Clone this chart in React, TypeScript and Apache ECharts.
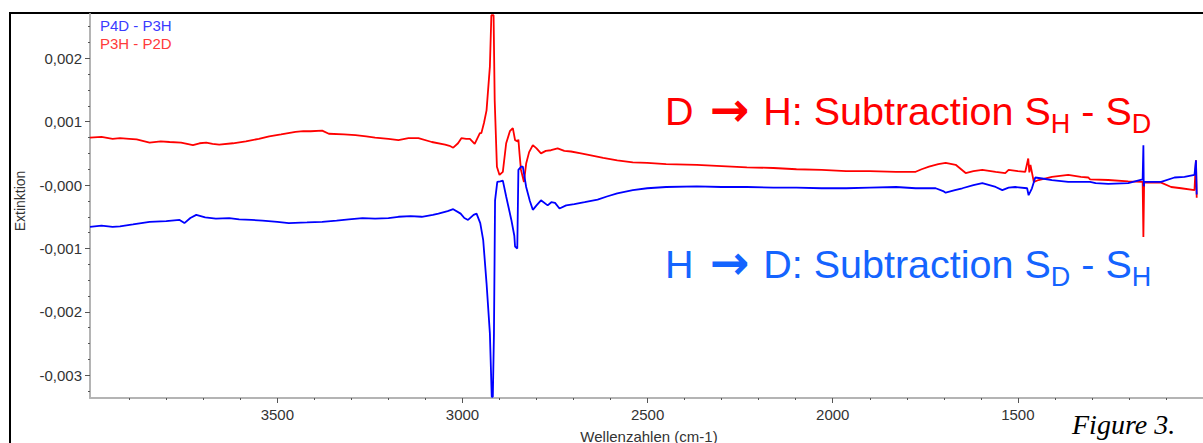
import React, { useEffect, useRef } from "react";
import * as echarts from "echarts";

// ---- data (wavenumber in cm-1, absorbance difference) ----
const redWavenumbers = [
  4006, 3975, 3945, 3925, 3900, 3880, 3845, 3815, 3791, 3760, 3728, 3710, 3692, 3675, 3657, 3620, 3585, 3550,
  3522, 3490, 3451, 3430, 3410, 3379, 3361, 3320, 3289, 3260, 3236, 3200, 3173, 3146, 3119, 3083, 3047, 3035,
  3025, 3012, 3003, 2990, 2980, 2967, 2953, 2949, 2942, 2935, 2926, 2922, 2916, 2913, 2907, 2900, 2891, 2882,
  2872, 2864, 2858, 2851, 2849, 2846, 2842, 2834, 2828, 2820, 2810, 2800, 2788, 2775, 2761, 2743, 2725, 2707,
  2680, 2653, 2620, 2582, 2540, 2501, 2450, 2367, 2300, 2232, 2160, 2098, 2030, 1964, 1900, 1829, 1776, 1760,
  1740, 1715, 1695, 1668, 1641, 1620, 1596, 1560, 1534, 1525, 1500, 1480, 1472, 1469, 1466, 1457, 1444, 1408,
  1364, 1330, 1310, 1305, 1256, 1202, 1163, 1161, 1159, 1113, 1086, 1059, 1023, 1019, 1017,
];
const redValues = [
  0.00075, 0.00076, 0.00073, 0.00074, 0.00073, 0.00072, 0.00067, 0.00069, 0.00068, 0.00067, 0.00063, 0.00066,
  0.00067, 0.00065, 0.00064, 0.00066, 0.00069, 0.00073, 0.00077, 0.0008, 0.00084, 0.00085, 0.00085, 0.00086,
  0.00081, 0.0008, 0.00079, 0.00077, 0.00075, 0.00073, 0.00071, 0.00074, 0.00074, 0.00068, 0.00064, 0.00062,
  0.00059, 0.00066, 0.00074, 0.00073, 0.00073, 0.00065, 0.00082, 0.00082, 0.00098, 0.00118, 0.00187, 0.00268,
  0.00268, 0.00134, 0.00029, 0.00016, 0.00021, 0.00066, 0.00085, 0.0009, 0.00071, 0.00069, 0.00072, 0.0005,
  0.00024, 0.00005, 0.00034, 0.00052, 0.00063, 0.00058, 0.0005, 0.00054, 0.00055, 0.00058, 0.00054, 0.00053,
  0.0005, 0.00047, 0.00043, 0.00039, 0.00036, 0.00035, 0.00033, 0.00032, 0.0003, 0.00028, 0.00027, 0.00025,
  0.00024, 0.00022, 0.00022, 0.00021, 0.00021, 0.00025, 0.00029, 0.00033, 0.00035, 0.00032, 0.00019, 0.00022,
  0.00024, 0.00021, 0.00019, 0.00024, 0.00022, 0.00021, 0.00042, 0.0002, 0.00032, 0.00005, 0.00008, 0.00013,
  0.00016, 0.00013, 0.00012, 0.00009, 0.00008, 0.00006, 0.00005, -0.00082, 0.00004, 0.00004, -0.00003,
  -0.00005, -0.00008, 0.00039, -0.0002,
];

const blueWavenumbers = [
  4006, 3975, 3945, 3925, 3890, 3845, 3800, 3764, 3751, 3735, 3719, 3695, 3666, 3630, 3603, 3570, 3540, 3500,
  3469, 3420, 3379, 3340, 3307, 3270, 3236, 3200, 3173, 3140, 3110, 3080, 3065, 3040, 3025, 3005, 2995, 2985,
  2970, 2962, 2952, 2944, 2935, 2926, 2921, 2918, 2915, 2912, 2906, 2898, 2891, 2882, 2868, 2860, 2858, 2852,
  2849, 2842, 2837, 2828, 2818, 2810, 2800, 2788, 2770, 2760, 2750, 2738, 2720, 2698, 2670, 2635, 2610, 2582,
  2540, 2501, 2450, 2367, 2300, 2232, 2160, 2098, 2030, 1964, 1900, 1829, 1776, 1722, 1700, 1695, 1670, 1650,
  1620, 1596, 1560, 1542, 1525, 1507, 1475, 1471, 1466, 1462, 1453, 1430, 1408, 1364, 1305, 1290, 1256, 1202,
  1163, 1161, 1160, 1159, 1113, 1077, 1050, 1023, 1019, 1017,
];
const blueValues = [
  -0.00066, -0.00064, -0.00066, -0.00065, -0.00062, -0.00058, -0.00057, -0.00055, -0.0006, -0.00052, -0.00047,
  -0.00051, -0.00053, -0.00052, -0.00054, -0.00055, -0.00056, -0.00058, -0.0006, -0.00059, -0.00058, -0.00056,
  -0.00054, -0.00052, -0.00053, -0.00052, -0.0005, -0.00049, -0.0005, -0.00047, -0.00045, -0.00041, -0.00038,
  -0.00045, -0.00052, -0.00055, -0.00047, -0.00045, -0.0006, -0.00087, -0.00155, -0.00234, -0.00334, -0.00334,
  -0.00234, -0.00024, 0.00005, 0.00006, 0.00007, -0.00018, -0.00055, -0.0008, -0.00097, -0.001, 0.00024,
  0.00029, 0.00029, -0.00003, -0.00025, -0.00039, -0.00032, -0.00024, -0.00032, -0.00027, -0.00028, -0.00037,
  -0.00032, -0.0003, -0.00027, -0.00023, -0.00018, -0.00013, -0.00008, -0.00005, -0.00003, -0.00002, -0.00003,
  -0.00003, -0.00004, -0.00004, -0.00005, -0.00005, -0.00004, -0.00003, -0.00005, -0.00005, -0.0001, -0.00012,
  -0.00008, -0.00005, 0.0, 0.00003, -0.00003, -0.00008, -0.00004, -0.00003, -0.00005, -0.00016, -0.0001,
  -0.00005, 0.00012, 0.0001, 0.00008, 0.00005, 0.00005, 0.00003, 0.00002, 0.00003, 0.00009, 0.00063, -0.00002,
  0.00005, 0.00005, 0.00012, 0.00013, 0.00016, 0.00039, -0.00015,
];

const xLabelTicks = [3500, 3000, 2500, 2000, 1500];
const xMinorTicks = [
  3900, 3800, 3700, 3600, 3400, 3300, 3200, 3100, 2900, 2800, 2700, 2600, 2400, 2300, 2200, 2100, 1900, 1800,
  1700, 1600, 1400, 1300, 1200, 1100,
];
const yLabelTicks = [-0.003, -0.002, -0.001, 0, 0.001, 0.002];
const yMinorTicks = [
  -0.00325, -0.003, -0.00275, -0.0025, -0.00225, -0.002, -0.00175, -0.0015, -0.00125, -0.001, -0.00075, -0.0005,
  -0.00025, 0, 0.00025, 0.0005, 0.00075, 0.001, 0.00125, 0.0015, 0.00175, 0.002, 0.00225, 0.0025,
];

const seriesNames = ["P4D - P3H", "P3H - P2D"];
// pieces: [text, kind] kind: m = main, a = arrow, s = subscript
const annotationRed: [string, string][] = [
  ["D ", "m"],
  ["\u2192", "a"],
  [" H: Subtraction S", "m"],
  ["H", "s"],
  [" - S", "m"],
  ["D", "s"],
];
const annotationBlue: [string, string][] = [
  ["H ", "m"],
  ["\u2192", "a"],
  [" D: Subtraction S", "m"],
  ["D", "s"],
  [" - S", "m"],
  ["H", "s"],
];

const SANS = "'Liberation Sans', Arial, sans-serif";
const ARROW_FONT = "'DejaVu Sans', sans-serif";
const SERIF = "'Liberation Serif', 'Times New Roman', serif";

const X_MIN = 1000;
const X_MAX = 4006;
const Y_MIN = -0.00336;
const Y_MAX = 0.0027;

function fmtY(v: number): string {
  if (Math.abs(v) < 1e-12) return "-0,000";
  return v.toFixed(3).replace(".", ",");
}

export default function App() {
  const ref = useRef<HTMLDivElement>(null);

  useEffect(() => {
    if (!ref.current) return;
    const chart = echarts.init(ref.current, undefined, { renderer: "svg" });
    const ctx = document.createElement("canvas").getContext("2d")!;
    const measure = (t: string, font: string) => {
      ctx.font = font;
      return ctx.measureText(t).width;
    };

    const MAIN = 39.5;
    const SUB = 27;
    const buildAnno = (parts: [string, string][], x0: number, baseline: number, color: string) => {
      const els: any[] = [];
      let x = x0;
      parts.forEach(([p, kind]) => {
        let font: string;
        let y: number;
        if (kind === "s") {
          font = `${SUB}px ${SANS}`;
          y = baseline + 8 - 0.3465 * SUB;
        } else if (kind === "a") {
          font = `bold ${MAIN * 1.2}px ${ARROW_FONT}`;
          y = baseline - 0.3 * MAIN * 1.2 - 1;
          x += 5;
        } else {
          font = `${MAIN}px ${SANS}`;
          y = baseline - 0.3465 * MAIN;
        }
        els.push({
          type: "text",
          x,
          y,
          style: { text: p, fill: color, font, align: "left", verticalAlign: "middle" },
        });
        x += measure(p, font);
        if (kind === "a") x += 3;
      });
      return els;
    };

    const red = redWavenumbers.map((w, i) => [w, redValues[i]]);
    const blue = blueWavenumbers.map((w, i) => [w, blueValues[i]]);

    const baseX = {
      type: "value",
      inverse: true,
      min: X_MIN,
      max: X_MAX,
      position: "bottom",
      splitLine: { show: false },
    };
    const baseY = {
      type: "value",
      min: Y_MIN,
      max: Y_MAX,
      position: "left",
      splitLine: { show: false },
    };

    const option: any = {
      animation: false,
      backgroundColor: "#ffffff",
      grid: { left: 90, right: -5.6, top: 14, bottom: 45, containLabel: false },
      legend: {
        orient: "vertical",
        left: 95,
        top: 18,
        padding: 0,
        itemGap: 3,
        itemWidth: 0,
        itemHeight: 15,
        icon: "none",
        selectedMode: false,
        textStyle: { fontSize: 15, fontFamily: SANS },
        data: [
          { name: seriesNames[0], textStyle: { color: "#3a3aff" } },
          { name: seriesNames[1], textStyle: { color: "#ff3a3a" } },
        ],
      },
      xAxis: [
        {
          ...baseX,
          axisLine: { show: true, onZero: false, lineStyle: { color: "#b4b4b4", width: 2 } },
          axisTick: { show: true, customValues: xLabelTicks, length: 5, lineStyle: { color: "#555", width: 1 } },
          axisLabel: {
            show: true,
            customValues: xLabelTicks,
            margin: 9,
            color: "#333",
            fontSize: 15,
            fontFamily: SANS,
            formatter: (v: number) => String(Math.round(v)),
          },
        },
        {
          ...baseX,
          axisLine: { show: false, onZero: false },
          axisTick: { show: true, customValues: xMinorTicks, length: 2, lineStyle: { color: "#555", width: 1 } },
          axisLabel: { show: false },
        },
      ],
      yAxis: [
        {
          ...baseY,
          axisLine: { show: true, onZero: false, lineStyle: { color: "#b4b4b4", width: 2 } },
          axisTick: { show: true, customValues: yLabelTicks, length: 5, lineStyle: { color: "#555", width: 1 } },
          axisLabel: {
            show: true,
            customValues: yLabelTicks,
            margin: 8,
            color: "#333",
            fontSize: 15,
            fontFamily: SANS,
            formatter: (v: number) => fmtY(v),
          },
        },
        {
          ...baseY,
          axisLine: { show: false, onZero: false },
          axisTick: { show: true, customValues: yMinorTicks, length: 2, lineStyle: { color: "#555", width: 1 } },
          axisLabel: { show: false },
        },
      ],
      series: [
        {
          name: seriesNames[0],
          type: "line",
          xAxisIndex: 0,
          yAxisIndex: 0,
          data: blue,
          showSymbol: false,
          symbol: "none",
          color: "#0000ff",
          lineStyle: { color: "#0000ff", width: 1.8 },
          z: 3,
        },
        {
          name: seriesNames[1],
          type: "line",
          xAxisIndex: 0,
          yAxisIndex: 0,
          data: red,
          showSymbol: false,
          symbol: "none",
          color: "#ff0000",
          lineStyle: { color: "#ff0000", width: 1.8 },
          z: 2,
        },
      ],
      graphic: [
        {
          type: "rect",
          shape: { x: 10, y: 13, width: 1400, height: 600 },
          style: { fill: "none", stroke: "#000", lineWidth: 2 },
          silent: true,
        },
        {
          type: "text",
          x: 20,
          y: 201,
          rotation: Math.PI / 2,
          style: { text: "Extinktion", fill: "#333", font: `14px ${SANS}`, align: "center", verticalAlign: "middle" },
        },
        {
          type: "text",
          x: 649,
          y: 436.5,
          style: {
            text: "Wellenzahlen (cm-1)",
            fill: "#333",
            font: `15px ${SANS}`,
            align: "center",
            verticalAlign: "middle",
          },
        },
        {
          type: "text",
          x: 1072,
          y: 424.5,
          style: {
            text: "Figure 3.",
            fill: "#000",
            font: `italic 28px ${SERIF}`,
            align: "left",
            verticalAlign: "middle",
          },
        },
        ...buildAnno(annotationRed, 665, 125, "#ff0000"),
        ...buildAnno(annotationBlue, 665, 278, "#1464ff"),
      ],
    };

    chart.setOption(option);
    return () => chart.dispose();
  }, []);

  return (
    <div
      ref={ref}
      style={{ position: "absolute", left: 0, top: 0, width: 1203, height: 443, background: "#fff" }}
    />
  );
}
